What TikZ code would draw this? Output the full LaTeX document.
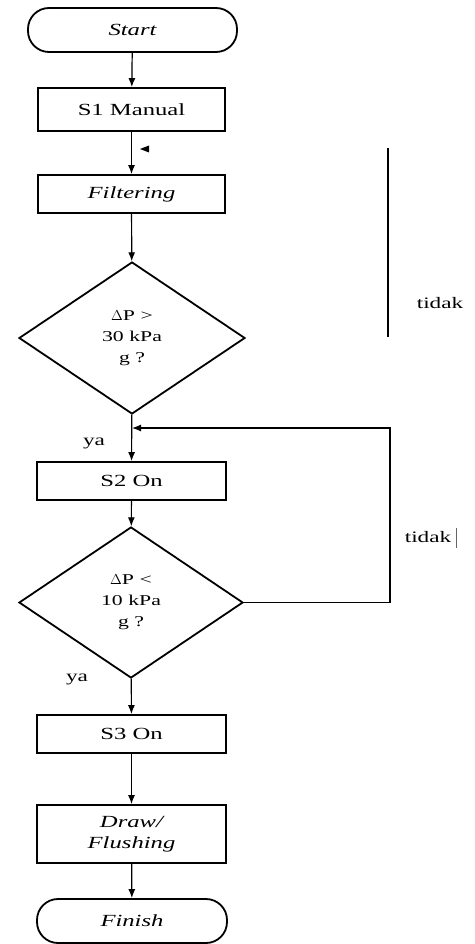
\documentclass[tikz,border=0pt]{standalone}
\usepackage{fontspec}
\setmainfont{Liberation Serif}[FakeStretch=1.45]
\usetikzlibrary{arrows.meta,shapes.geometric}
\begin{document}
\begin{tikzpicture}[x=1pt,y=-1pt,
  every node/.style={font=\fontsize{17}{21}\selectfont, inner sep=0pt},
  term/.style={draw, line width=1.8pt, rounded corners=21pt},
  proc/.style={draw, line width=1.8pt},
  decide/.style={draw, diamond, line width=1.8pt, align=center,
    font=\fontsize{15}{21}\selectfont},
  arr/.style={line width=1.2pt, -{Latex[length=9pt,width=7pt]}},
  plain/.style={line width=1.3pt},
  lbl/.style={font=\fontsize{16}{18}\selectfont}]
\useasboundingbox (0,0) rectangle (474,944);

% process chain
\node[term, minimum width=209pt, minimum height=44pt] (start) at (132.5,30) {\itshape Start};
\node[proc, minimum width=187pt, minimum height=43pt] (s1) at (131.5,109.5) {S1 Manual};
\node[proc, minimum width=187pt, minimum height=38pt] (filt) at (131.5,194) {\itshape Filtering};
\node[decide, minimum width=226pt, minimum height=152pt] (d1) at (132,338) {$\Delta$P >\\30 kPa\\g ?};
\node[proc, minimum width=189pt, minimum height=38pt] (s2) at (131.5,481) {S2 On};
\node[decide, minimum width=224pt, minimum height=151pt] (d2) at (131,602.5) {$\Delta$P <\\10 kPa\\g ?};
\node[proc, minimum width=189pt, minimum height=38pt] (s3) at (131.5,734) {S3 On};
\node[proc, minimum width=189pt, minimum height=58pt, align=center] (flush) at (131.5,834) {\itshape Draw/\\\itshape Flushing};
\node[term, minimum width=190pt, minimum height=44pt] (finish) at (132,921) {\itshape Finish};

% straight connectors
\draw[arr] (start) -- (s1);
\draw[arr] (s1) -- (filt);
\draw[arr] (filt) -- (d1);
\draw[arr] (d1) -- (s2);
\draw[arr] (s2) -- (d2);
\draw[arr] (d2) -- (s3);
\draw[arr] (s3) -- (flush);
\draw[arr] (flush) -- (finish);

% loop back from the second decision
\coordinate (lr) at (390,602.5);
\coordinate (lt) at (390,428);
\coordinate (join) at (132,428);
\draw[arr] (d2.east) -- (lr) -- (lt) -- (join);

% detached vertical line on the right
\coordinate (v1) at (388,148);
\coordinate (v2) at (388,337);
\draw[plain] (v1) -- (v2);

% small stray tip beside the S1 connector
\fill (140,149) -- (149,145.5) -- (149,152.5) -- cycle;

% labels
\node[lbl] (ya1) at (94,443) {ya};
\node[lbl] (ya2) at (77,679) {ya};
\node[lbl] (td1) at (440,303) {tidak};
\node[lbl] (td2) at (428,537) {tidak};
\draw[line width=0.8pt, black!60] (456,528) -- (456,548);
\end{tikzpicture}
\end{document}
